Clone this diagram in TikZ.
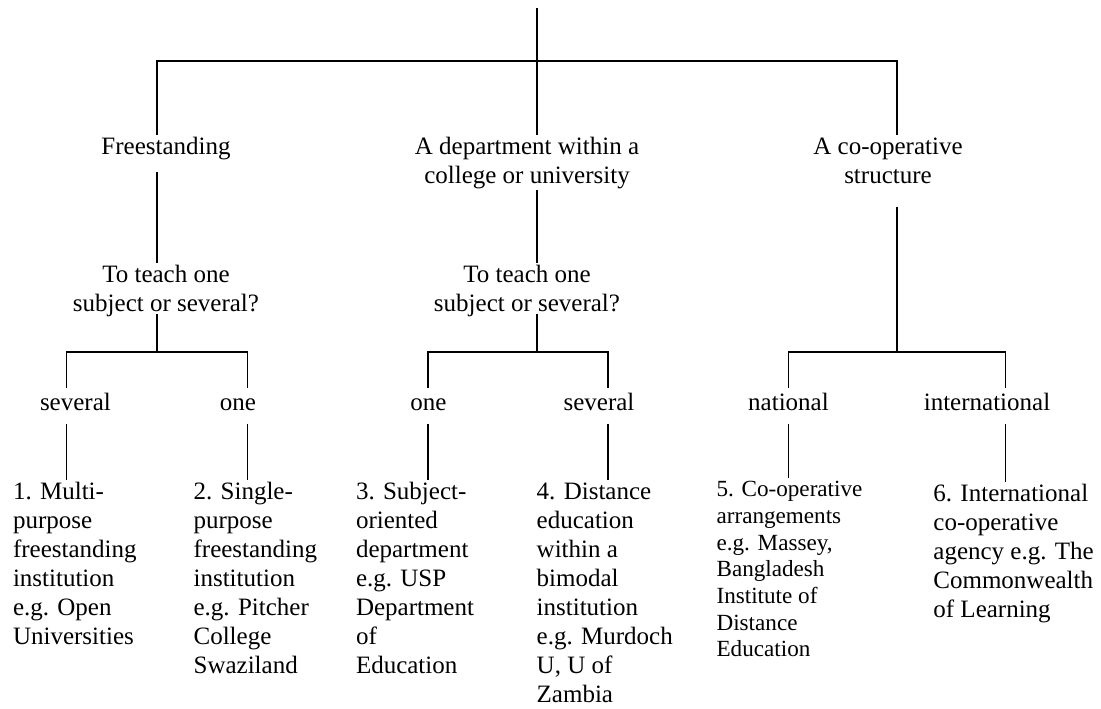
\documentclass[tikz,border=0pt]{standalone}
\usepackage{fontspec}
\setmainfont{Liberation Serif}
\usetikzlibrary{calc}
% stacked lines of text whose reference point is the first baseline
\newcommand{\txtrows}[2]{\begin{tabular}[t]{@{}#1@{}}#2\end{tabular}}

\begin{document}
\begin{tikzpicture}[x=0.75pt,y=-0.75pt,line width=1.1pt,
  lbl/.style={inner sep=0pt,outer sep=0pt,font=\fontsize{18.75}{21.75}\selectfont},
  ctr/.style={lbl,anchor=base},
  leaf/.style={lbl,anchor=base west},
  leafsmall/.style={leaf,font=\fontsize{17.35}{20}\selectfont}]
\useasboundingbox (0,0) rectangle (1101,709);

% first level
\node[ctr] (free) at (166,155) {\txtrows{c}{Freestanding}};
\node[ctr] (dept) at (527,155) {\txtrows{c}{A department within a\\college or university}};
\node[ctr] (coop) at (888,155) {\txtrows{c}{A co-operative\\structure}};

% questions
\node[ctr] (q1) at (166,283) {\txtrows{c}{To teach one\\subject or several?}};
\node[ctr] (q2) at (527,283) {\txtrows{c}{To teach one\\subject or several?}};

% answers
\node[ctr] (s1)   at (75.4,411)  {\txtrows{c}{several}};
\node[ctr] (o1)   at (237.8,411) {\txtrows{c}{one}};
\node[ctr] (o2)   at (428.3,411) {\txtrows{c}{one}};
\node[ctr] (s2)   at (599,411)   {\txtrows{c}{several}};
\node[ctr] (nat)  at (788.5,411) {\txtrows{c}{national}};
\node[ctr] (intl) at (987,411)   {\txtrows{c}{international}};

% the six kinds of institution
\node[leaf] (l1) at (13,500) {\txtrows{l}{1. Multi-\\purpose\\freestanding\\institution\\e.g. Open\\Universities}};
\node[leaf] (l2) at (193.6,500) {\txtrows{l}{2. Single-\\purpose\\freestanding\\institution\\e.g. Pitcher\\College\\Swaziland}};
\node[leaf] (l3) at (356,500) {\txtrows{l}{3. Subject-\\oriented\\department\\e.g. USP\\Department\\of\\Education}};
\node[leaf] (l4) at (536.7,500) {\txtrows{l}{4. Distance\\education\\within a\\bimodal\\institution\\e.g. Murdoch\\U, U of\\Zambia}};
\node[leafsmall] (l5) at (716.6,497) {\txtrows{l}{5. Co-operative\\arrangements\\e.g. Massey,\\Bangladesh\\Institute of\\Distance\\Education}};
\node[leaf] (l6) at (933.4,502) {\txtrows{l}{6. International\\co-operative\\agency e.g. The\\Commonwealth\\of Learning}};

% junction points
\coordinate (top)    at (537,8);
\coordinate (barL)   at (157,61);
\coordinate (barR)   at (897,61);
\coordinate (fork1L) at (66.6,352);
\coordinate (fork1R) at (247.3,352);
\coordinate (fork2L) at (428,352);
\coordinate (fork2R) at (608,352);
\coordinate (fork3L) at (788.5,352);
\coordinate (fork3R) at (1005.3,352);

% root and first fork
\draw (top) -- (dept.north -| top);
\draw (free.north -| barL) -- (barL) -- (barR) -- (coop.north -| barR);

% first level down to questions / fork
\draw ($(free.south -| barL)+(0,8.3)$) -- (q1.north -| barL);
\draw ($(dept.south -| top)+(0,-2.7)$) -- (q2.north -| top);
\draw ($(coop.south -| barR)+(0,14)$) -- (fork3L -| barR);

% questions down to their forks
\draw ($(q1.south -| barL)+(0,-6.7)$) -- (fork1L -| barL);
\draw ($(q2.south -| top)+(0,-6.7)$) -- (fork2L -| top);

% forks
\draw ($(s1.north -| fork1L)+(0,-2.5)$) -- (fork1L) -- (fork1R) -- ($(o1.north -| fork1R)+(0,-2.5)$);
\draw ($(o2.north -| fork2L)+(0,-2.5)$) -- (fork2L) -- (fork2R) -- ($(s2.north -| fork2R)+(0,-2.5)$);
\draw ($(nat.north -| fork3L)+(0,-2.5)$) -- (fork3L) -- (fork3R) -- ($(intl.north -| fork3R)+(0,-2.5)$);

% answers down to institutions
\draw ($(s1.south -| fork1L)+(0,4)$)   -- (l1.north -| fork1L);
\draw ($(o1.south -| fork1R)+(0,4)$)   -- (l2.north -| fork1R);
\draw ($(o2.south -| fork2L)+(0,4)$)   -- (l3.north -| fork2L);
\draw ($(s2.south -| fork2R)+(0,4)$)   -- (l4.north -| fork2R);
\draw ($(nat.south -| fork3L)+(0,4)$)  -- (l5.north -| fork3L);
\draw ($(intl.south -| fork3R)+(0,4)$) -- (l6.north -| fork3R);
\end{tikzpicture}
\end{document}
